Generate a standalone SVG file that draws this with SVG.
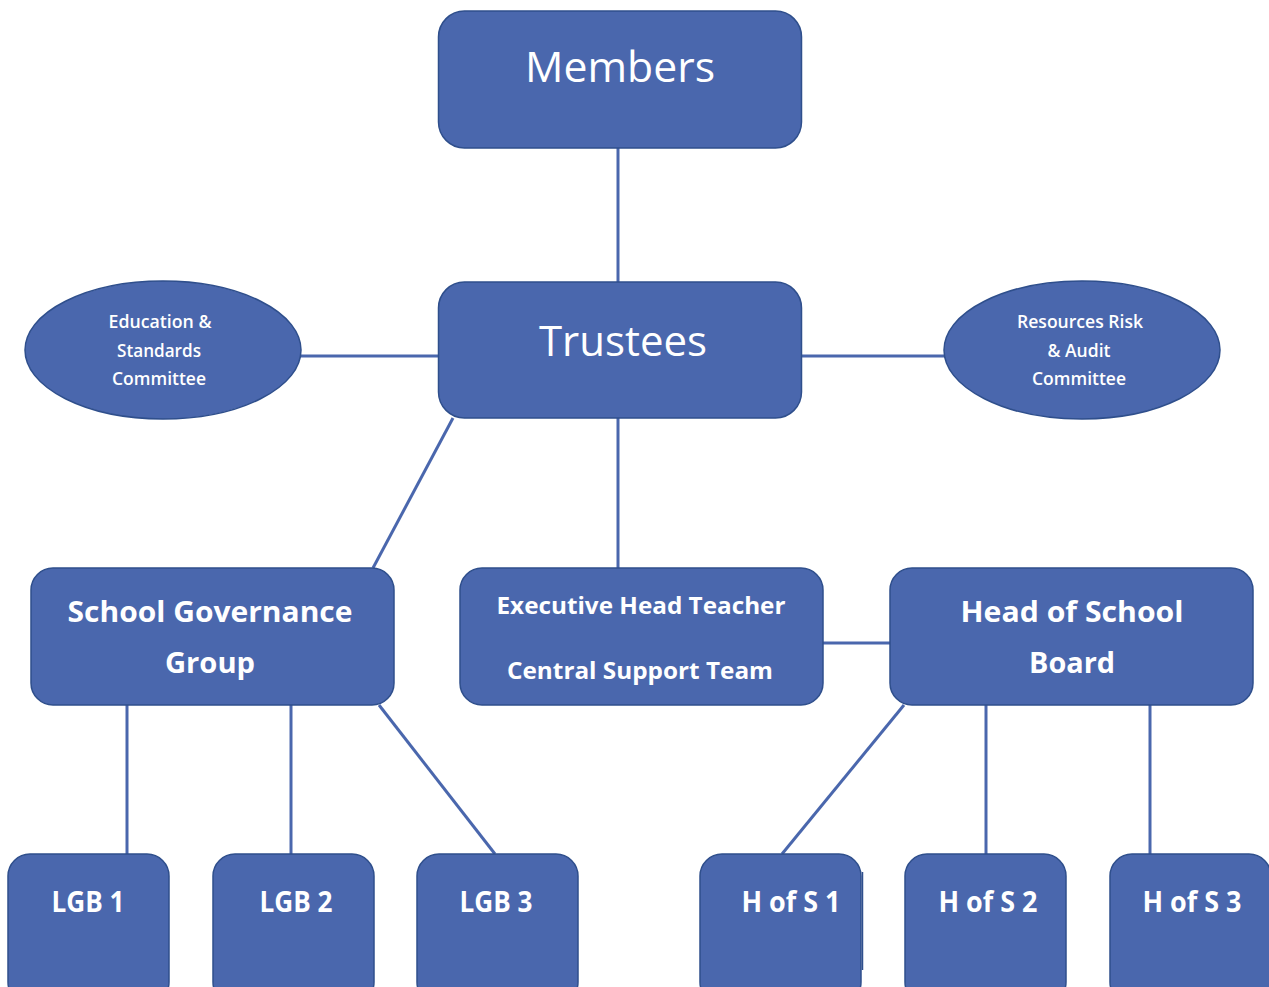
<svg xmlns="http://www.w3.org/2000/svg" width="1269" height="987" viewBox="0 0 1269 987">
  <style>
    .box { fill: #4a67ad; stroke: #2f4f8c; stroke-width: 1.5; }
    .link { stroke: #4a67ad; stroke-width: 3; fill: none; }
    .t { fill: #ffffff; font-family: "Open Sans", "Liberation Sans", sans-serif; text-anchor: middle; }
    .light { font-weight: 400; font-size: 42px; }
    .bold { font-weight: 700; font-size: 28px; }
    .mid { font-weight: 700; font-size: 24px; }
    .small { font-weight: 600; font-size: 18px; }
  </style>
  <rect width="1269" height="987" fill="#ffffff"/>

  <!-- connectors -->
  <g id="connectors">
    <line class="link" x1="618" y1="148" x2="618" y2="282"/>
    <line class="link" x1="301" y1="356" x2="438" y2="356"/>
    <line class="link" x1="801" y1="356" x2="944" y2="356"/>
    <line class="link" x1="453" y1="418" x2="373" y2="568"/>
    <line class="link" x1="618" y1="418" x2="618" y2="568"/>
    <line class="link" x1="823" y1="643" x2="890" y2="643"/>
    <line class="link" x1="127" y1="705" x2="127" y2="854"/>
    <line class="link" x1="291" y1="705" x2="291" y2="854"/>
    <line class="link" x1="379" y1="705" x2="495" y2="854"/>
    <line class="link" x1="904" y1="705" x2="782" y2="854"/>
    <line class="link" x1="986" y1="705" x2="986" y2="854"/>
    <line class="link" x1="1150" y1="705" x2="1150" y2="854"/>
  </g>

  <g id="members">
    <rect class="box" x="438.5" y="11" width="363" height="137" rx="26"/>
    <text class="t light" x="620" y="82" textLength="190" lengthAdjust="spacingAndGlyphs">Members</text>
  </g>

  <g id="trustees">
    <rect class="box" x="438.5" y="282" width="363" height="136" rx="26"/>
    <text class="t light" x="623" y="356" textLength="168" lengthAdjust="spacingAndGlyphs">Trustees</text>
  </g>

  <g id="education-standards">
    <ellipse class="box" cx="163" cy="350" rx="138" ry="69"/>
    <text class="t small" x="160" y="328" textLength="103" lengthAdjust="spacingAndGlyphs">Education &amp;</text>
    <text class="t small" x="159" y="357" textLength="84" lengthAdjust="spacingAndGlyphs">Standards</text>
    <text class="t small" x="159" y="385" textLength="94" lengthAdjust="spacingAndGlyphs">Committee</text>
  </g>

  <g id="resources-risk-audit">
    <ellipse class="box" cx="1082" cy="350" rx="138" ry="69"/>
    <text class="t small" x="1080" y="328" textLength="126" lengthAdjust="spacingAndGlyphs">Resources Risk</text>
    <text class="t small" x="1079" y="357" textLength="63" lengthAdjust="spacingAndGlyphs">&amp; Audit</text>
    <text class="t small" x="1079" y="385" textLength="94" lengthAdjust="spacingAndGlyphs">Committee</text>
  </g>

  <g id="school-governance-group">
    <rect class="box" x="31" y="568" width="363" height="137" rx="22"/>
    <text class="t bold" x="210" y="622" textLength="285" lengthAdjust="spacingAndGlyphs">School Governance</text>
    <text class="t bold" x="210" y="673" textLength="90" lengthAdjust="spacingAndGlyphs">Group</text>
  </g>

  <g id="executive-head-teacher">
    <rect class="box" x="460" y="568" width="363" height="137" rx="22"/>
    <text class="t mid" x="641" y="614" textLength="289" lengthAdjust="spacingAndGlyphs">Executive Head Teacher</text>
    <text class="t mid" x="640" y="679" textLength="266" lengthAdjust="spacingAndGlyphs">Central Support Team</text>
  </g>

  <g id="head-of-school-board">
    <rect class="box" x="890" y="568" width="363" height="137" rx="22"/>
    <text class="t bold" x="1072" y="622" textLength="223" lengthAdjust="spacingAndGlyphs">Head of School</text>
    <text class="t bold" x="1072" y="673" textLength="86" lengthAdjust="spacingAndGlyphs">Board</text>
  </g>

  <g id="lgb-1">
    <rect class="box" x="8" y="854" width="161" height="150" rx="22"/>
    <text class="t bold" x="88" y="912" textLength="73" lengthAdjust="spacingAndGlyphs">LGB 1</text>
  </g>
  <g id="lgb-2">
    <rect class="box" x="213" y="854" width="161" height="150" rx="22"/>
    <text class="t bold" x="296" y="912" textLength="73" lengthAdjust="spacingAndGlyphs">LGB 2</text>
  </g>
  <g id="lgb-3">
    <rect class="box" x="417" y="854" width="161" height="150" rx="22"/>
    <text class="t bold" x="496" y="912" textLength="73" lengthAdjust="spacingAndGlyphs">LGB 3</text>
  </g>

  <g id="h-of-s-1">
    <rect class="box" x="700" y="854" width="161" height="150" rx="22"/>
    <line x1="862.5" y1="872" x2="862.5" y2="970" stroke="#2f4f8c" stroke-width="1.5"/>
    <text class="t bold" x="791" y="912" textLength="99" lengthAdjust="spacingAndGlyphs">H of S 1</text>
  </g>
  <g id="h-of-s-2">
    <rect class="box" x="905" y="854" width="161" height="150" rx="22"/>
    <text class="t bold" x="988" y="912" textLength="99" lengthAdjust="spacingAndGlyphs">H of S 2</text>
  </g>
  <g id="h-of-s-3">
    <rect class="box" x="1110" y="854" width="161" height="150" rx="22"/>
    <text class="t bold" x="1192" y="912" textLength="99" lengthAdjust="spacingAndGlyphs">H of S 3</text>
  </g>
</svg>
